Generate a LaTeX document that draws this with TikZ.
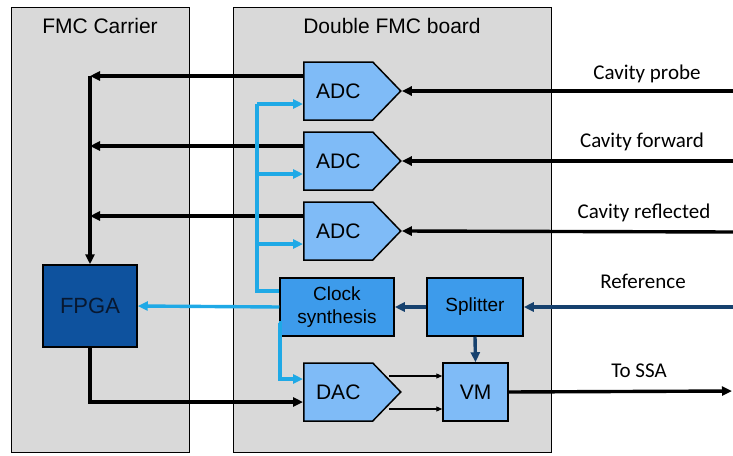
\documentclass[tikz,border=0pt]{standalone}
\usepackage{fontspec}
\setmainfont{Liberation Sans}
\newfontfamily\calibri{Carlito}
\usetikzlibrary{arrows.meta,shapes.symbols,positioning}

\definecolor{panelgray}{RGB}{217,217,217}
\definecolor{convblue}{RGB}{127,187,247}
\definecolor{procblue}{RGB}{61,155,235}
\definecolor{fpgablue}{RGB}{14,82,158}
\definecolor{fpgatext}{RGB}{8,24,48}
\definecolor{clkcyan}{RGB}{31,169,230}
\definecolor{refblue}{RGB}{22,65,110}

\begin{document}
\begin{tikzpicture}[x=1pt, y=-1pt,
    >={Triangle[length=10pt, width=9pt]},
    panel/.style={draw, line width=1.4pt, fill=panelgray, anchor=north west, minimum height=445pt},
    title/.style={font=\fontsize{21}{24}\selectfont, anchor=base},
    conv/.style={signal, signal to=east, signal pointer angle=92, draw, line width=1.5pt, fill=convblue,
                 minimum width=97pt, minimum height=58pt, anchor=west, font=\fontsize{21}{24}\selectfont},
    block/.style={draw, line width=1.5pt, minimum height=58pt, inner sep=1pt, align=center},
    sig/.style={->, line width=3.4pt},
    clk/.style={->, line width=3.4pt, clkcyan},
    ref/.style={->, line width=3.4pt, refblue},
    thinsig/.style={-{Triangle[length=6pt, width=5pt]}, line width=1.1pt},
    inlabel/.style={font=\calibri\fontsize{21}{24}\selectfont, anchor=base}
  ]
  \useasboundingbox (0,0) rectangle (733,455);

  % Boards
  \node[panel, minimum width=178pt] (carrier) at (11,7) {};
  \node[panel, minimum width=318pt] (board) at (233,7) {};
  \node[title] (carriertitle) at (100,33) {FMC Carrier};
  \node[title] (boardtitle) at (392,33) {Double FMC board};

  % Blocks
  \node[conv] (adc1) at (303,91)  {ADC};
  \node[conv] (adc2) at (303,161) {ADC};
  \node[conv] (adc3) at (303,231) {ADC};
  \node[conv] (dac)  at (303,392) {DAC};
  \node[block, fill=fpgablue, text=fpgatext, minimum width=94pt, minimum height=82pt,
        font=\fontsize{22}{24}\selectfont] (fpga) at (90,306) {FPGA};
  \node[block, fill=procblue, minimum width=114pt, font=\fontsize{19}{23}\selectfont] (clock) at (337,307) {Clock\\synthesis};
  \node[block, fill=procblue, minimum width=96pt, font=\fontsize{19}{23}\selectfont] (splitter) at (475,307) {Splitter};
  \node[block, fill=convblue, minimum width=65pt, font=\fontsize{21}{24}\selectfont] (vm) at (475.5,392) {VM};

  % Front panel signals
  \coordinate (probe) at (733,91);
  \coordinate (fwd) at (733,161);
  \coordinate (refl) at (733,232);
  \coordinate (refin) at (733,307);
  \coordinate (ssa) at (732,391);
  \node[inlabel] (probelbl) at (647,79) {Cavity probe};
  \node[inlabel] (fwdlbl) at (642,147) {Cavity forward};
  \node[inlabel] (refllbl) at (644,218) {Cavity reflected};
  \node[inlabel] (reflbl) at (643,288) {Reference};
  \node[inlabel] (ssalbl) at (639,377) {To SSA};

  \draw[sig] (probe) -- (adc1.east);
  \draw[sig] (fwd) -- (adc2.east);
  \draw[sig] (refl) -- (adc3.east);
  \draw[ref] (refin) -- (splitter.east);
  \draw[sig] (vm.east) -- (ssa);

  % Data to the FPGA
  \coordinate (bus) at (90,76);
  \draw[sig] ([yshift=15pt]adc1.west) -- (bus);
  \draw[sig] ([yshift=15pt]adc2.west) -- ++(-213,0);
  \draw[sig] ([yshift=15pt]adc3.west) -- ++(-213,0);
  \draw[sig] (bus) -- (fpga.north);
  \draw[sig] (fpga.south) |- ([yshift=-10pt]dac.west);

  % Clock distribution
  \coordinate (clkbus) at (257,104);
  \draw[line width=3.4pt, clkcyan] ([yshift=16pt]clock.west) -| (clkbus);
  \draw[clk] (clkbus) -- ([yshift=-13pt]adc1.west);
  \draw[clk] (clkbus) |- ([yshift=-13pt]adc2.west);
  \draw[clk] (clkbus) |- ([yshift=-13pt]adc3.west);
  \draw[clk] ([yshift=-16pt]clock.west) -| ([xshift=-23pt, yshift=13pt]dac.west) -- ([yshift=13pt]dac.west);
  \draw[clk] (clock.west) -- (fpga.east);

  % Reference path
  \draw[ref] (splitter.west) -- (clock.east);
  \draw[ref] (splitter.south) -- (vm.north);

  % DAC to vector modulator
  \draw[thinsig] ([shift={(-13pt,16pt)}]dac.east) -- ([yshift=16pt]vm.west);
  \draw[thinsig] ([shift={(-13pt,-17pt)}]dac.east) -- ([yshift=-17pt]vm.west);

\end{tikzpicture}
\end{document}
